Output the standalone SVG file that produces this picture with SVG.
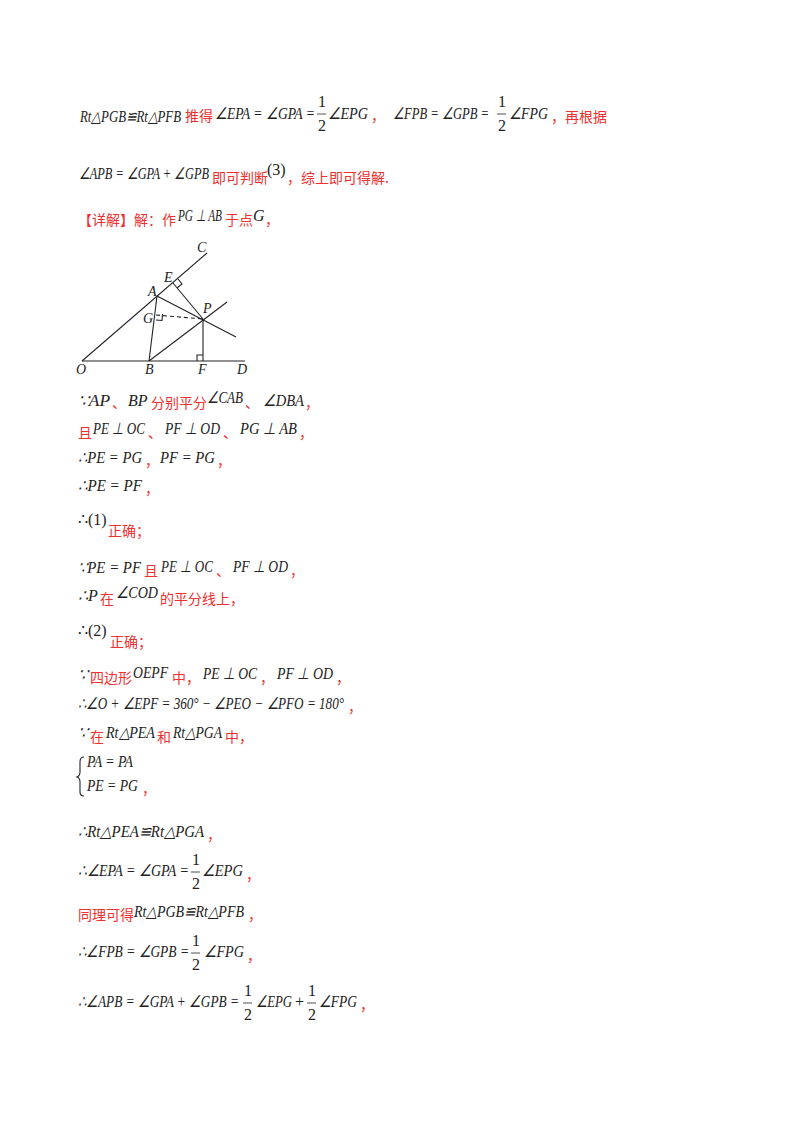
<svg xmlns="http://www.w3.org/2000/svg" width="800" height="1132" viewBox="0 0 800 1132">
<style>
.m{font-family:"Liberation Serif",serif;font-style:italic;font-size:16px;fill:#222}
.n{font-family:"Liberation Serif",serif;font-size:16px;fill:#222}
.r{font-family:"Noto Sans CJK SC",sans-serif;font-size:14px;fill:#ee3030}
.l{font-family:"Liberation Serif",serif;font-style:italic;font-size:14px;fill:#222}
.s{stroke:#222;stroke-width:1.1;fill:none}
.fb{stroke:#222;stroke-width:0.8}
</style>
<rect width="800" height="1132" fill="#fff"/>
<g id="text">
<text class="m" x="80" y="122" textLength="101" lengthAdjust="spacingAndGlyphs">Rt△PGB≌Rt△PFB</text>
<text class="r" x="185" y="121">推得</text>
<text class="m" x="215" y="119" textLength="100" lengthAdjust="spacingAndGlyphs">∠EPA = ∠GPA =</text>
<text class="n" x="318" y="107">1</text><line class="fb" x1="317" y1="114" x2="326" y2="114"/><text class="n" x="318" y="131">2</text>
<text class="m" x="328" y="119" textLength="40" lengthAdjust="spacingAndGlyphs">∠EPG</text>
<text class="r" x="371" y="121">，</text>
<text class="m" x="393" y="119" textLength="96" lengthAdjust="spacingAndGlyphs">∠FPB = ∠GPB =</text>
<text class="n" x="498" y="107">1</text><line class="fb" x1="497" y1="114" x2="506" y2="114"/><text class="n" x="498" y="131">2</text>
<text class="m" x="509" y="119" textLength="39" lengthAdjust="spacingAndGlyphs">∠FPG</text>
<text class="r" x="551" y="122">，再根据</text>

<text class="m" x="79" y="179" textLength="130" lengthAdjust="spacingAndGlyphs">∠APB = ∠GPA + ∠GPB</text>
<text class="r" x="212" y="183">即可判断</text>
<text class="n" x="267" y="175">(3)</text>
<text class="r" x="287" y="183">，综上即可得解.</text>

<text class="r" x="78" y="225">【详解】解：作</text>
<text class="m" x="178" y="221" textLength="44" lengthAdjust="spacingAndGlyphs">PG ⊥ AB</text>
<text class="r" x="225" y="225">于点</text>
<text class="m" x="253" y="221">G</text>
<text class="r" x="265" y="225">，</text>

<text class="m" x="78" y="406" textLength="32" lengthAdjust="spacingAndGlyphs">∵AP</text>
<text class="r" x="112" y="408">、</text>
<text class="m" x="128" y="406">BP</text>
<text class="r" x="151" y="408">分别平分</text>
<text class="m" x="207" y="403" textLength="36" lengthAdjust="spacingAndGlyphs">∠CAB</text>
<text class="r" x="245" y="408">、</text>
<text class="m" x="263" y="406" textLength="41" lengthAdjust="spacingAndGlyphs">∠DBA</text>
<text class="r" x="305" y="408">，</text>

<text class="r" x="78" y="438">且</text>
<text class="m" x="93" y="434" textLength="52" lengthAdjust="spacingAndGlyphs">PE ⊥ OC</text>
<text class="r" x="148" y="438">、</text>
<text class="m" x="165" y="434" textLength="55" lengthAdjust="spacingAndGlyphs">PF ⊥ OD</text>
<text class="r" x="223" y="438">、</text>
<text class="m" x="240" y="434" textLength="57" lengthAdjust="spacingAndGlyphs">PG ⊥ AB</text>
<text class="r" x="299" y="438">，</text>

<text class="m" x="78" y="463" textLength="64" lengthAdjust="spacingAndGlyphs">∴PE = PG</text>
<text class="r" x="145" y="466">，</text>
<text class="m" x="160" y="463" textLength="55" lengthAdjust="spacingAndGlyphs">PF = PG</text>
<text class="r" x="217" y="466">，</text>

<text class="m" x="78" y="491" textLength="64" lengthAdjust="spacingAndGlyphs">∴PE = PF</text>
<text class="r" x="145" y="494">，</text>

<text class="n" x="78" y="525">∴(1)</text>
<text class="r" x="108" y="536">正确；</text>

<text class="m" x="78" y="573" textLength="63" lengthAdjust="spacingAndGlyphs">∵PE = PF</text>
<text class="r" x="144" y="576">且</text>
<text class="m" x="161" y="572" textLength="52" lengthAdjust="spacingAndGlyphs">PE ⊥ OC</text>
<text class="r" x="216" y="576">、</text>
<text class="m" x="233" y="572" textLength="55" lengthAdjust="spacingAndGlyphs">PF ⊥ OD</text>
<text class="r" x="290" y="576">，</text>

<text class="m" x="78" y="601">∴P</text>
<text class="r" x="100" y="604">在</text>
<text class="m" x="116" y="598" textLength="42" lengthAdjust="spacingAndGlyphs">∠COD</text>
<text class="r" x="160" y="604">的平分线上，</text>

<text class="n" x="78" y="636">∴(2)</text>
<text class="r" x="110" y="647">正确；</text>

<text class="m" x="78" y="680">∵</text>
<text class="r" x="90" y="683">四边形</text>
<text class="m" x="133" y="678" textLength="35" lengthAdjust="spacingAndGlyphs">OEPF</text>
<text class="r" x="172" y="683">中，</text>
<text class="m" x="203" y="679" textLength="54" lengthAdjust="spacingAndGlyphs">PE ⊥ OC</text>
<text class="r" x="260" y="683">，</text>
<text class="m" x="277" y="679" textLength="56" lengthAdjust="spacingAndGlyphs">PF ⊥ OD</text>
<text class="r" x="336" y="683">，</text>

<text class="m" x="78" y="709" textLength="266" lengthAdjust="spacingAndGlyphs">∴∠O + ∠EPF = 360° − ∠PEO − ∠PFO = 180°</text>
<text class="r" x="348" y="712">，</text>

<text class="m" x="78" y="738">∵</text>
<text class="r" x="90" y="742">在</text>
<text class="m" x="106" y="738" textLength="49" lengthAdjust="spacingAndGlyphs">Rt△PEA</text>
<text class="r" x="157" y="742">和</text>
<text class="m" x="173" y="738" textLength="49" lengthAdjust="spacingAndGlyphs">Rt△PGA</text>
<text class="r" x="225" y="742">中，</text>

<path class="s" d="M84,757 Q80,757 80,762 L80,772 Q80,776 77,777 Q80,778 80,782 L80,792 Q80,796 84,796" stroke-width="0.9"/>
<text class="m" x="87" y="767" textLength="46" lengthAdjust="spacingAndGlyphs">PA = PA</text>
<text class="m" x="87" y="791" textLength="51" lengthAdjust="spacingAndGlyphs">PE = PG</text>
<text class="r" x="142" y="794">，</text>

<text class="m" x="78" y="837" textLength="126" lengthAdjust="spacingAndGlyphs">∴Rt△PEA≌Rt△PGA</text>
<text class="r" x="207" y="840">，</text>

<text class="m" x="78" y="876" textLength="111" lengthAdjust="spacingAndGlyphs">∴∠EPA = ∠GPA =</text>
<text class="n" x="192" y="865">1</text><line class="fb" x1="191" y1="872" x2="200" y2="872"/><text class="n" x="192" y="889">2</text>
<text class="m" x="202" y="876" textLength="41" lengthAdjust="spacingAndGlyphs">∠EPG</text>
<text class="r" x="246" y="880">，</text>

<text class="r" x="78" y="920">同理可得</text>
<text class="m" x="134" y="917" textLength="110" lengthAdjust="spacingAndGlyphs">Rt△PGB≌Rt△PFB</text>
<text class="r" x="248" y="920">，</text>

<text class="m" x="78" y="957" textLength="111" lengthAdjust="spacingAndGlyphs">∴∠FPB = ∠GPB =</text>
<text class="n" x="192" y="946">1</text><line class="fb" x1="191" y1="953" x2="200" y2="953"/><text class="n" x="192" y="970">2</text>
<text class="m" x="204" y="957" textLength="40" lengthAdjust="spacingAndGlyphs">∠FPG</text>
<text class="r" x="247" y="961">，</text>

<text class="m" x="78" y="1007" textLength="161" lengthAdjust="spacingAndGlyphs">∴∠APB = ∠GPA + ∠GPB =</text>
<text class="n" x="244" y="996">1</text><line class="fb" x1="243" y1="1003" x2="252" y2="1003"/><text class="n" x="244" y="1020">2</text>
<text class="m" x="256" y="1007" textLength="36" lengthAdjust="spacingAndGlyphs">∠EPG</text>
<text class="n" x="295" y="1007">+</text>
<text class="n" x="308" y="996">1</text><line class="fb" x1="307" y1="1003" x2="316" y2="1003"/><text class="n" x="308" y="1020">2</text>
<text class="m" x="319" y="1007" textLength="38" lengthAdjust="spacingAndGlyphs">∠FPG</text>
<text class="r" x="360" y="1010">，</text>
</g>
<g id="figure">
<g id="lines">
<line class="s" x1="82" y1="361" x2="207" y2="253"/>
<line class="s" x1="82" y1="361" x2="245" y2="361"/>
<line class="s" x1="157" y1="296" x2="236" y2="337"/>
<line class="s" x1="149" y1="361" x2="227" y2="302"/>
<line class="s" x1="149" y1="361" x2="157" y2="296"/>
<line class="s" x1="173" y1="283" x2="203" y2="319"/>
<line class="s" x1="203" y1="319" x2="203" y2="361"/>
<line class="s" x1="156" y1="315" x2="203" y2="319" stroke-dasharray="4,3"/>
<path class="s" d="M197,361 V355 H203" stroke-width="0.9"/>
<path class="s" d="M178,279 L182,284 L177,288" stroke-width="0.9"/>
<path class="s" d="M156,320 L162,320.5 L162.5,314" stroke-width="0.9"/>
</g>
<g id="labels">
<text class="l" x="197" y="252">C</text>
<text class="l" x="164" y="282">E</text>
<text class="l" x="148" y="296">A</text>
<text class="l" x="203" y="313">P</text>
<text class="l" x="143" y="323">G</text>
<text class="l" x="76" y="374">O</text>
<text class="l" x="145" y="374">B</text>
<text class="l" x="198" y="374">F</text>
<text class="l" x="237" y="374">D</text>
</g>
</g>
</svg>
